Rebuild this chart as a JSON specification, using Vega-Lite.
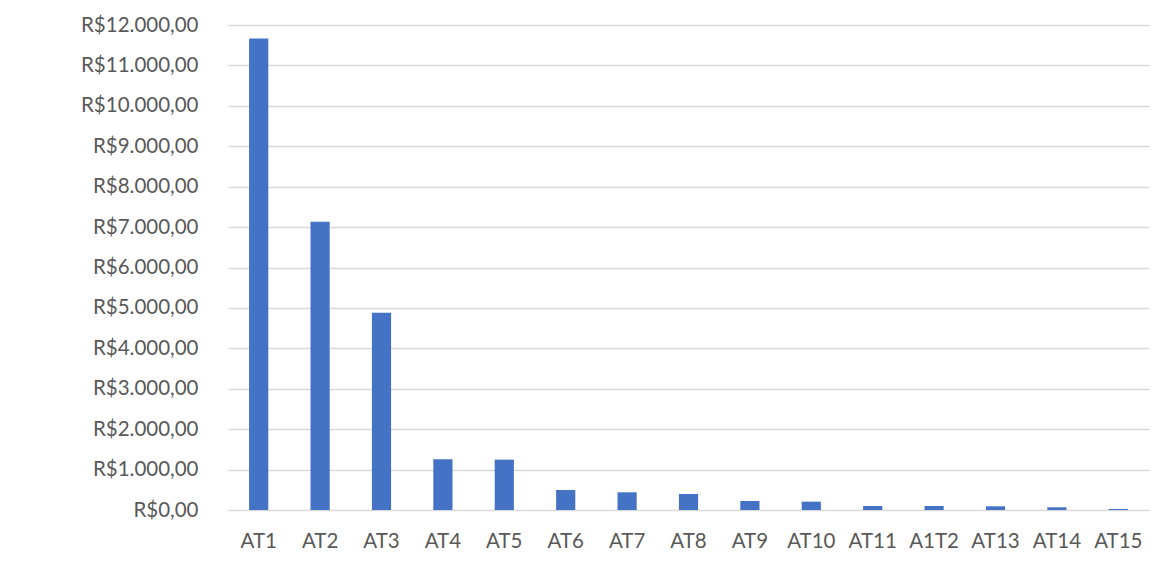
{
  "$schema": "https://vega.github.io/schema/vega-lite/v6.json",
  "width": 921,
  "height": 485,
  "autosize": {"type": "none"},
  "padding": {"left": 228, "top": 25, "right": 6, "bottom": 70},
  "background": "white",
  "data": {
    "values": [
      {"cat": "AT1", "valor": 11666},
      {"cat": "AT2", "valor": 7133},
      {"cat": "AT3", "valor": 4879},
      {"cat": "AT4", "valor": 1256},
      {"cat": "AT5", "valor": 1246},
      {"cat": "AT6", "valor": 495},
      {"cat": "AT7", "valor": 438},
      {"cat": "AT8", "valor": 396},
      {"cat": "AT9", "valor": 223},
      {"cat": "AT10", "valor": 206},
      {"cat": "AT11", "valor": 99},
      {"cat": "A1T2", "valor": 99},
      {"cat": "AT13", "valor": 91},
      {"cat": "AT14", "valor": 66},
      {"cat": "AT15", "valor": 25}
    ]
  },
  "mark": {"type": "bar", "color": "#4472C4"},
  "encoding": {
    "x": {
      "field": "cat",
      "type": "nominal",
      "sort": null,
      "scale": {"paddingInner": 0.6875, "paddingOuter": 0.34375},
      "axis": {
        "title": null,
        "labelAngle": 0,
        "ticks": false,
        "domain": false,
        "labelPadding": 21,
        "labelFont": "Lato",
        "labelFontSize": 20.5,
        "labelColor": "#595959"
      }
    },
    "y": {
      "field": "valor",
      "type": "quantitative",
      "scale": {"domain": [0, 12000], "nice": false},
      "axis": {
        "title": null,
        "values": [0, 1000, 2000, 3000, 4000, 5000, 6000, 7000, 8000, 9000, 10000, 11000, 12000],
        "labelExpr": "datum.value == 0 ? 'R$0,00' : 'R$' + format(datum.value / 1000, 'd') + '.000,00'",
        "ticks": false,
        "domain": false,
        "labelPadding": 30,
        "labelFont": "Lato",
        "labelFontSize": 20.5,
        "labelColor": "#595959",
        "gridColor": "#D9D9D9",
        "gridWidth": 1.5
      }
    }
  },
  "config": {"view": {"stroke": null}}
}
